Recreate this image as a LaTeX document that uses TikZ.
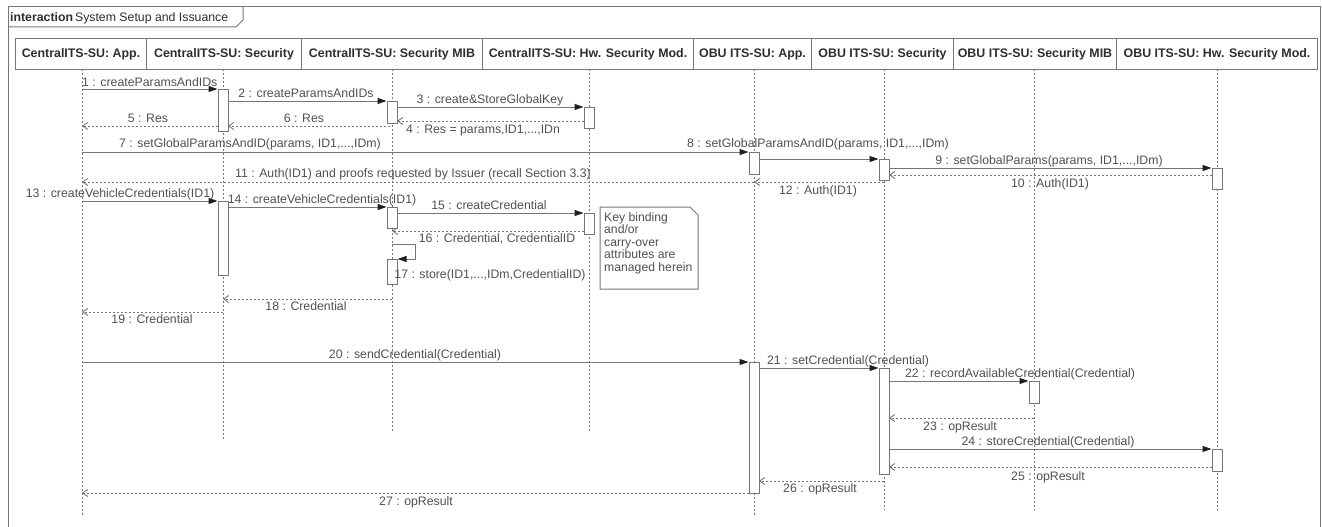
\documentclass[tikz,border=0pt]{standalone}
\usepackage{fontspec}
\setmainfont{Liberation Sans}
\usetikzlibrary{arrows.meta}
\definecolor{ln}{HTML}{767676}
\definecolor{tx}{HTML}{505050}
\definecolor{hd}{HTML}{2E2E2E}
\definecolor{tip}{HTML}{1E1E1E}
\begin{document}
\begin{tikzpicture}[x=1pt,y=-1pt,
  lab/.style={font=\fontsize{12.3}{14}\selectfont, text=tx, inner sep=0pt, anchor=base},
  hdr/.style={draw=ln, line width=1pt, fill=white, minimum height=31pt, font=\bfseries\fontsize{12.4}{14}\selectfont, text=hd, inner sep=0pt, anchor=north west},
  life/.style={draw=ln, line width=0.9pt, dash pattern=on 2pt off 2pt},
  act/.style={draw=ln, line width=1pt, fill=white, minimum width=10pt, inner sep=0pt, anchor=north},
  call/.style={draw=ln, line width=1pt, -{Triangle[length=9pt,width=6pt,color=tip,fill=tip]}},
  ret/.style={draw=ln, line width=0.9pt, dash pattern=on 2pt off 2pt, -{Straight Barb[length=5pt,width=7pt]}},
]
\useasboundingbox (0,0) rectangle (1322,527);
% frame and title tab
\draw[ln, line width=1pt] (8,527) -- (8,7) -- (1320,7) -- (1320,527);
\node[anchor=base west, inner sep=0pt, text=hd, font=\fontsize{12.3}{14}\selectfont] (title) at (10,21.5) {\textbf{interaction}\hspace{2pt}System Setup and Issuance};
\draw[ln, line width=1pt] (8,27) -- (236,27) -- (243,20) -- (243,7);

% lifelines
\coordinate (t1) at (82,69);   \coordinate (b1) at (82,515);
\coordinate (t2) at (223,69);  \coordinate (b2) at (223,440);
\coordinate (t3) at (392,69);  \coordinate (b3) at (392,431);
\coordinate (t4) at (589,69);  \coordinate (b4) at (589,431);
\coordinate (t5) at (754,69);  \coordinate (b5) at (754,515);
\coordinate (t6) at (884,69);  \coordinate (b6) at (884,510);
\coordinate (t7) at (1034,69); \coordinate (b7) at (1034,510);
\coordinate (t8) at (1217,69); \coordinate (b8) at (1217,510);
\foreach \i in {1,...,8} {\draw[life] (t\i) -- (b\i);}

% headers
\node[hdr, minimum width=131pt] (h1) at (15,38) {CentralITS-SU: App.};
\node[hdr, minimum width=155pt] (h2) at (146,38) {CentralITS-SU: Security};
\node[hdr, minimum width=181pt] (h3) at (301,38) {CentralITS-SU: Security MIB};
\node[hdr, minimum width=211pt] (h4) at (482,38) {CentralITS-SU: Hw. Security Mod.};
\node[hdr, minimum width=118pt] (h5) at (693,38) {OBU ITS-SU: App.};
\node[hdr, minimum width=142pt] (h6) at (811,38) {OBU ITS-SU: Security};
\node[hdr, minimum width=163pt] (h7) at (953,38) {OBU ITS-SU: Security MIB};
\node[hdr, minimum width=201pt] (h8) at (1116,38) {OBU ITS-SU: Hw. Security Mod.};

% activations
\node[act, minimum height=42pt] (a2a) at (223,89) {};
\node[act, minimum height=22pt] (a3a) at (392,101) {};
\node[act, minimum height=21pt] (a4a) at (589,107) {};
\node[act, minimum height=22pt] (a5a) at (754,152) {};
\node[act, minimum height=21pt] (a6a) at (884,159) {};
\node[act, minimum height=21pt] (a8a) at (1217,168) {};
\node[act, minimum height=74pt] (a2b) at (223,201) {};
\node[act, minimum height=21pt] (a3b) at (392,207) {};
\node[act, minimum height=21pt] (a4b) at (589,213) {};
\node[act, minimum height=25pt] (a3c) at (392,259) {};
\node[act, minimum height=131pt] (a5b) at (754,362) {};
\node[act, minimum height=106pt] (a6b) at (884,368) {};
\node[act, minimum height=22pt] (a7) at (1034,381) {};
\node[act, minimum height=22pt] (a8b) at (1217,449) {};

% message endpoints
\coordinate (s1) at (82,89);
\coordinate (s2) at (228,101);
\coordinate (s3) at (397,107);
\coordinate (s4) at (584,121);  \coordinate (e4) at (397,121);
\coordinate (s5) at (218,126);  \coordinate (e5) at (82,126);
\coordinate (s6) at (390,126);  \coordinate (e6) at (228,126);
\coordinate (s7) at (82,152);
\coordinate (s8) at (759,159);
\coordinate (s9) at (889,168);
\coordinate (s10) at (1212,175); \coordinate (e10) at (889,175);
\coordinate (s11) at (754,182);  \coordinate (e11) at (82,182);
\coordinate (s12) at (884,182);  \coordinate (e12) at (754,182);
\coordinate (s13) at (82,201);
\coordinate (s14) at (228,207);
\coordinate (s15) at (397,213);
\coordinate (s16) at (584,231);  \coordinate (e16) at (392,231);
\coordinate (s17) at (392,244);  \coordinate (c17) at (415,244); \coordinate (d17) at (415,259);
\coordinate (s18) at (392,299);  \coordinate (e18) at (223,299);
\coordinate (s19) at (223,312);  \coordinate (e19) at (82,312);
\coordinate (s20) at (82,362);
\coordinate (s21) at (759,368);
\coordinate (s22) at (889,381);
\coordinate (s23) at (1034,418); \coordinate (e23) at (889,418);
\coordinate (s24) at (889,449);
\coordinate (s25) at (1212,467); \coordinate (e25) at (889,467);
\coordinate (s26) at (884,481);  \coordinate (e26) at (759,481);
\coordinate (s27) at (749,493);  \coordinate (e27) at (82,493);

% messages
\draw[call] (s1) -- (a2a.north west);
\draw[call] (s2) -- (a3a.north west);
\draw[call] (s3) -- (a4a.north west);
\draw[ret] (s4) -- (e4);
\draw[ret] (s5) -- (e5);
\draw[ret] (s6) -- (e6);
\draw[call] (s7) -- (a5a.north west);
\draw[call] (s8) -- (a6a.north west);
\draw[call] (s9) -- (a8a.north west);
\draw[ret] (s10) -- (e10);
\draw[ret] (s11) -- (e11);
\draw[ret] (s12) -- (e12);
\draw[call] (s13) -- (a2b.north west);
\draw[call] (s14) -- (a3b.north west);
\draw[call] (s15) -- (a4b.north west);
\draw[ret] (s16) -- (e16);
\draw[call] (s17) -- (c17) -- (d17) -- (a3c.north east);
\draw[ret] (s18) -- (e18);
\draw[ret] (s19) -- (e19);
\draw[call] (s20) -- (a5b.north west);
\draw[call] (s21) -- (a6b.north west);
\draw[call] (s22) -- (a7.north west);
\draw[ret] (s23) -- (e23);
\draw[call] (s24) -- (a8b.north west);
\draw[ret] (s25) -- (e25);
\draw[ret] (s26) -- (e26);
\draw[ret] (s27) -- (e27);

% labels
\node[lab, anchor=base west] (l1) at (82,86) {1 : createParamsAndIDs};
\node[lab] (l2) at (306,97) {2 : createParamsAndIDs};
\node[lab] (l3) at (490,103.5) {3 : create\&StoreGlobalKey};
\node[lab] (l4) at (483,133) {4 : Res = params,ID1,...,IDn};
\node[lab] (l5) at (148,122) {5 : Res};
\node[lab] (l6) at (304,122) {6 : Res};
\node[lab] (l7) at (250,147) {7 : setGlobalParamsAndID(params, ID1,...,IDm)};
\node[lab] (l8) at (818,147) {8 : setGlobalParamsAndID(params, ID1,...,IDm)};
\node[lab] (l9) at (1049,164) {9 : setGlobalParams(params, ID1,...,IDm)};
\node[lab] (l10) at (1050,187) {10 : Auth(ID1)};
\node[lab] (l11) at (413,177.5) {11 : Auth(ID1) and proofs requested by Issuer (recall Section 3.3)};
\node[lab] (l12) at (818,194) {12 : Auth(ID1)};
\node[lab] (l13) at (120,197) {13 : createVehicleCredentials(ID1)};
\node[lab] (l14) at (322,203) {14 : createVehicleCredentials(ID1)};
\node[lab] (l15) at (489,209) {15 : createCredential};
\node[lab] (l16) at (497,242) {16 : Credential, CredentialID};
\node[lab] (l17) at (490,278) {17 : store(ID1,...,IDm,CredentialID)};
\node[lab] (l18) at (306,310.5) {18 : Credential};
\node[lab] (l19) at (152,323) {19 : Credential};
\node[lab] (l20) at (415,358) {20 : sendCredential(Credential)};
\node[lab] (l21) at (848,364) {21 : setCredential(Credential)};
\node[lab] (l22) at (1020,377) {22 : recordAvailableCredential(Credential)};
\node[lab] (l23) at (960,430) {23 : opResult};
\node[lab] (l24) at (1048,445) {24 : storeCredential(Credential)};
\node[lab] (l25) at (1048,480) {25 : opResult};
\node[lab] (l26) at (820,492) {26 : opResult};
\node[lab] (l27) at (416,505) {27 : opResult};

% note
\draw[ln, line width=1pt, fill=white] (600,207) -- (690,207) -- (698,215) -- (698,289) -- (600,289) -- cycle;
\node[anchor=north west, inner sep=0pt, text=tx, align=left, font=\fontsize{12.2}{12.5}\selectfont] (note) at (604,212) {Key binding\\and/or\\carry-over\\attributes are\\managed herein};
\end{tikzpicture}
\end{document}
